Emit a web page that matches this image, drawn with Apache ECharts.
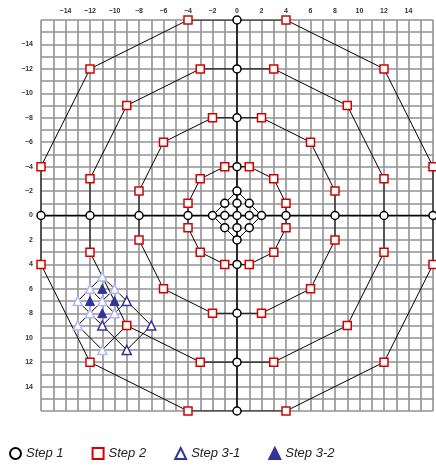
<!DOCTYPE html>
<html><head><meta charset="utf-8">
<script src="https://cdn.jsdelivr.net/npm/echarts@6/dist/echarts.min.js"></script>
<style>html,body{margin:0;padding:0;background:#fff}#c{width:436px;height:466px}</style>
</head><body><div id="c"></div>
<script>
// Tick labels (shown every 2 units, -14..14)
var tickLabels = [-14,-12,-10,-8,-6,-4,-2,0,2,4,6,8,10,12,14];

// Step 1: circles
var step1 = [
  [0,-16],[16,0],[0,16],[-16,0],
  [0,-12],[12,0],[0,12],[-12,0],
  [0,-8],[8,0],[0,8],[-8,0],
  [0,-4],[4,0],[0,4],[-4,0],
  [0,-2],[-1,-1],[0,-1],[1,-1],[-2,0],[-1,0],[0,0],[1,0],[2,0],[-1,1],[0,1],[1,1],[0,2]
];
// Step 2: squares
var step2 = [
  [4,-16],[12,-12],[16,-4],[16,4],[12,12],[4,16],[-4,16],[-12,12],[-16,4],[-16,-4],[-12,-12],[-4,-16],
  [3,-12],[9,-9],[12,-3],[12,3],[9,9],[3,12],[-3,12],[-9,9],[-12,3],[-12,-3],[-9,-9],[-3,-12],
  [2,-8],[6,-6],[8,-2],[8,2],[6,6],[2,8],[-2,8],[-6,6],[-8,2],[-8,-2],[-6,-6],[-2,-8],
  [1,-4],[3,-3],[4,-1],[4,1],[3,3],[1,4],[-1,4],[-3,3],[-4,1],[-4,-1],[-3,-3],[-1,-4]
];
// Step 3-1: hollow triangles (dark and light shades)
var step31Dark = [[-9,7],[-11,9],[-7,9],[-9,11]];
var step31Light = [[-11,5],[-12,6],[-10,6],[-13,7],[-11,7],[-12,8],[-10,8],[-13,9],[-11,11]];
// Step 3-2: filled triangles
var step32 = [[-11,6],[-12,7],[-10,7],[-11,8]];

// Connecting paths
var ring16 = [[0,-16],[4,-16],[12,-12],[16,-4],[16,0],[16,4],[12,12],[4,16],[0,16],[-4,16],[-12,12],[-16,4],[-16,0],[-16,-4],[-12,-12],[-4,-16],[0,-16]];
var ring12 = [[0,-12],[3,-12],[9,-9],[12,-3],[12,0],[12,3],[9,9],[3,12],[0,12],[-3,12],[-9,9],[-12,3],[-12,0],[-12,-3],[-9,-9],[-3,-12],[0,-12]];
var ring8 = [[0,-8],[2,-8],[6,-6],[8,-2],[8,0],[8,2],[6,6],[2,8],[0,8],[-2,8],[-6,6],[-8,2],[-8,0],[-8,-2],[-6,-6],[-2,-8],[0,-8]];
var ring4 = [[0,-4],[1,-4],[3,-3],[4,-1],[4,0],[4,1],[3,3],[1,4],[0,4],[-1,4],[-3,3],[-4,1],[-4,0],[-4,-1],[-3,-3],[-1,-4],[0,-4]];
var innerDiamond = [[0,-2],[2,0],[0,2],[-2,0],[0,-2]];
var axisPaths = [[[0,-16],[0,16]],[[-16,0],[16,0]]];
var triPaths = [
  [[-11,5],[-7,9]],[[-12,6],[-10,8]],[[-13,7],[-9,11]],[[-13,9],[-11,11]],
  [[-11,5],[-13,7]],[[-10,6],[-13,9]],[[-9,7],[-11,9]],[[-7,9],[-9,11]],[[-9,9],[-11,11]]
];

var chart = echarts.init(document.getElementById('c'));
var labelFmt = function(v){ return tickLabels.indexOf(v) >= 0 ? String(v).replace('-', '\u2212') : ''; };
var axisCommon = {
  type: 'value', min: -16, max: 16, interval: 1,
  axisLine: {show: false}, axisTick: {show: false},
  splitLine: {show: true, lineStyle: {color: '#929292', width: 1.6}},
  axisLabel: {formatter: labelFmt, fontSize: 7, fontWeight: 'bold', color: '#333', fontFamily: 'Liberation Sans', margin: 8}
};
function pathSeries(paths, width){
  return {
    type: 'lines', coordinateSystem: 'cartesian2d', polyline: true, silent: true, z: 3,
    lineStyle: {color: '#000', width: width, opacity: 1},
    data: paths.map(function(p){ return {coords: p}; })
  };
}
var triData = step31Dark.map(function(p){ return {value: p}; }).concat(
  step31Light.map(function(p){ return {value: p, itemStyle: {borderColor: '#b0b4f2'}}; }));

chart.setOption({
  animation: false,
  grid: {left: 41, right: 2, top: 20, bottom: 55},
  xAxis: Object.assign({}, axisCommon, {position: 'top', axisLabel: Object.assign({}, axisCommon.axisLabel, {margin: 5})}),
  yAxis: Object.assign({}, axisCommon, {inverse: true}),
  legend: {
    data: ['Step 1','Step 2','Step 3-1','Step 3-2'],
    left: 4, top: 442, itemWidth: 11, itemHeight: 11, itemGap: 28,
    textStyle: {fontSize: 13, fontStyle: 'italic', color: '#222', fontFamily: 'Liberation Sans'}
  },
  series: [
    pathSeries([ring16, ring12, ring8, ring4, innerDiamond], 1),
    pathSeries(axisPaths, 1.5),
    pathSeries(triPaths, 1),
    {name: 'Step 1', type: 'scatter', symbol: 'circle', symbolSize: 8, z: 5, data: step1,
     itemStyle: {color: '#fff', borderColor: '#000', borderWidth: 1.5, opacity: 1}},
    {name: 'Step 2', type: 'scatter', symbol: 'rect', symbolSize: 8, z: 5, data: step2,
     itemStyle: {color: '#fff', borderColor: '#d40000', borderWidth: 1.5, opacity: 1}},
    {name: 'Step 3-1', type: 'scatter', symbol: 'triangle', symbolSize: 9, z: 5, data: triData,
     itemStyle: {color: '#fff', borderColor: '#33339a', borderWidth: 1.5, opacity: 1}},
    {name: 'Step 3-2', type: 'scatter', symbol: 'triangle', symbolSize: 9, z: 6, data: step32,
     itemStyle: {color: '#333399', borderColor: '#333399', borderWidth: 1, opacity: 1}}
  ]
});
</script></body></html>
